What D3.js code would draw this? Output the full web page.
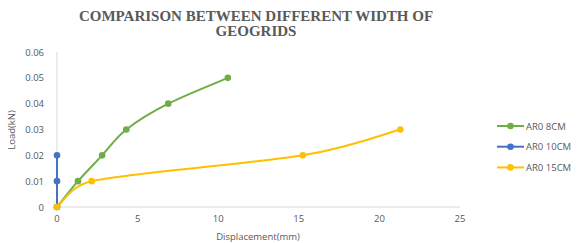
<!DOCTYPE html>
<html>
<head>
<meta charset="utf-8">
<script src="https://cdn.jsdelivr.net/npm/d3@7"></script>
<style>
  body { margin: 0; background: #fff; }
  text { font-family: "Open Sans", sans-serif; }
</style>
</head>
<body>
<svg class="chart"></svg>
<script>
// data
const seriesNames = ['AR0 8CM', 'AR0 10CM', 'AR0 15CM'];
const seriesColors = ['#70AD47', '#4472C4', '#FFC000'];
const ar8x = [0, 1.3, 2.8, 4.3, 6.9, 10.6];
const ar8y = [0, 0.01, 0.02, 0.03, 0.04, 0.05];
const ar10x = [0, 0, 0];
const ar10y = [0, 0.01, 0.02];
const ar15x = [0, 2.15, 15.25, 21.3];
const ar15y = [0, 0.01, 0.02, 0.03];
const xTicks = [0, 5, 10, 15, 20, 25];
const yTicks = [0, 0.01, 0.02, 0.03, 0.04, 0.05, 0.06];

const W = 582, H = 243;
const plot = { left: 57, right: 460, top: 52, bottom: 207 };

let svg = d3.select('.chart').attr('width', W).attr('height', H);

let x = d3.scaleLinear().domain([0, 25]).range([plot.left, plot.right]);
let y = d3.scaleLinear().domain([0, 0.06]).range([plot.bottom, plot.top]);

// excel-like smoothed line: bezier with 1/6 tangents, clamped on uneven segments
function ExcelSmooth(context) { this._context = context; }
ExcelSmooth.prototype = {
    areaStart() {}, areaEnd() {},
    lineStart() { this._pts = []; },
    point(px, py) { this._pts.push([+px, +py]); },
    lineEnd() {
        let p = this._pts, c = this._context, n = p.length;
        if (!n) return;
        c.moveTo(p[0][0], p[0][1]);
        let dist = (a, b) => Math.hypot(b[0] - a[0], b[1] - a[1]);
        for (let i = 0; i < n - 1; i++) {
            let p0 = p[Math.max(i - 1, 0)], p1 = p[i], p2 = p[i + 1], p3 = p[Math.min(i + 2, n - 1)];
            let d12 = dist(p1, p2), d02 = dist(p0, p2), d13 = dist(p1, p3);
            let f0 = 1 / 6, f1 = 1 / 6;
            if (d02 / 6 >= d12 / 2 && d02 > 0) f0 = d12 / 2 / d02;
            if (d13 / 6 >= d12 / 2 && d13 > 0) f1 = d12 / 2 / d13;
            c.bezierCurveTo(
                p1[0] + (p2[0] - p0[0]) * f0, p1[1] + (p2[1] - p0[1]) * f0,
                p2[0] - (p3[0] - p1[0]) * f1, p2[1] - (p3[1] - p1[1]) * f1,
                p2[0], p2[1]);
        }
    }
};
const curveExcel = ctx => new ExcelSmooth(ctx);

// title
let title = svg.append('g')
    .attr('text-anchor', 'middle');
['COMPARISON BETWEEN DIFFERENT WIDTH OF', 'GEOGRIDS'].forEach((t, i) => {
    title.append('text')
        .attr('x', 256).attr('y', 21 + i * 15)
        .style('font-family', '"Liberation Serif", "Times New Roman", serif')
        .style('font-weight', 'bold')
        .style('font-size', '15px')
        .style('fill', '#595959')
        .text(t);
});

// axis lines
svg.append('line')
    .attr('x1', x(0)).attr('x2', x(25)).attr('y1', y(0)).attr('y2', y(0))
    .style('stroke', '#d9d9d9');
svg.append('line')
    .attr('x1', x(0)).attr('x2', x(0)).attr('y1', y(0)).attr('y2', y(0.06))
    .style('stroke', '#d9d9d9');

// tick labels
svg.selectAll('.ytick')
    .data(yTicks)
    .enter().append('text')
    .attr('class', 'ytick')
    .attr('x', 44)
    .attr('y', d => y(d) + 3.5)
    .attr('text-anchor', 'end')
    .style('font-size', '9.5px')
    .style('fill', '#595959')
    .text(d => d === 0 ? '0' : d3.format('.2f')(d));

svg.selectAll('.xtick')
    .data(xTicks)
    .enter().append('text')
    .attr('class', 'xtick')
    .attr('x', d => x(d))
    .attr('y', 222)
    .attr('text-anchor', 'middle')
    .style('font-size', '9.5px')
    .style('fill', '#595959')
    .text(d => d);

// axis titles
svg.append('text')
    .attr('x', 258).attr('y', 240)
    .attr('text-anchor', 'middle')
    .style('font-size', '9.5px')
    .style('fill', '#595959')
    .text('Displacement(mm)');
svg.append('text')
    .attr('transform', 'translate(15,130) rotate(-90)')
    .attr('text-anchor', 'middle')
    .style('font-size', '9.5px')
    .style('fill', '#595959')
    .text('Load(kN)');

// series
let series = [
    { xs: ar8x, ys: ar8y },
    { xs: ar10x, ys: ar10y },
    { xs: ar15x, ys: ar15y }
].map((s, i) => ({
    name: seriesNames[i],
    color: seriesColors[i],
    pts: s.xs.map((v, j) => [v, s.ys[j]])
}));

let line = d3.line()
    .x(d => x(d[0]))
    .y(d => y(d[1]))
    .curve(curveExcel);

series.forEach(s => {
    svg.append('path')
        .attr('d', line(s.pts))
        .style('fill', 'none')
        .style('stroke', s.color)
        .style('stroke-width', 2);
});
series.forEach(s => {
    svg.selectAll(null)
        .data(s.pts)
        .enter().append('circle')
        .attr('cx', d => x(d[0]))
        .attr('cy', d => y(d[1]))
        .attr('r', 3.3)
        .style('fill', s.color);
});

// legend
let legend = svg.append('g').attr('transform', 'translate(497,126)');
let items = legend.selectAll('g')
    .data(series)
    .enter().append('g')
    .attr('transform', (d, i) => `translate(0,${i * 20.7})`);
items.append('line')
    .attr('x1', 0).attr('x2', 27)
    .style('stroke', d => d.color)
    .style('stroke-width', 2);
items.append('circle')
    .attr('cx', 13.5).attr('r', 3.3)
    .style('fill', d => d.color);
items.append('text')
    .attr('x', 29).attr('y', 3.5)
    .style('font-size', '9.5px')
    .style('fill', '#595959')
    .text(d => d.name);
</script>
</body>
</html>
